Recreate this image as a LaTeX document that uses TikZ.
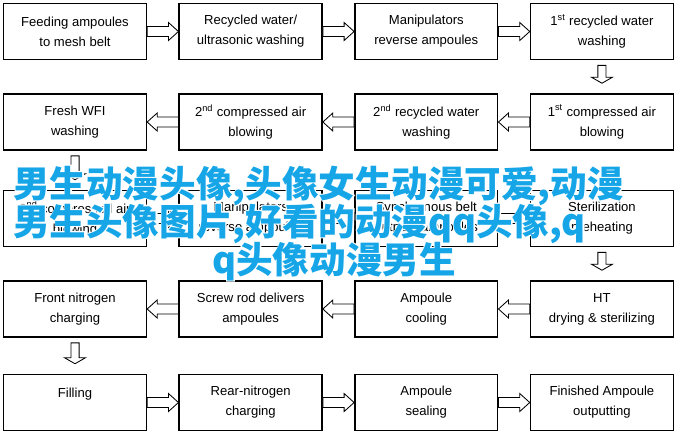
\documentclass[tikz,border=0pt]{standalone}
\usepackage{fontspec}
\setmainfont{Liberation Sans}
\newfontfamily\cjk{Noto Sans CJK SC}
\newfontfamily\cjkhalo{Noto Sans CJK SC}[FakeBold=6]
\usetikzlibrary{calc}
\definecolor{cjkblue}{RGB}{22,166,232}
\tikzstyle{stepbox} = [rectangle, minimum width=3.57cm, minimum height=1.4cm, text centered, align=center, draw=black, line width=1.1pt, fill=white, font=\fontsize{9.3}{14.2}\selectfont]
\tikzset{flow/.style n args={5}{draw=black, fill=white, line width=0.6pt,
    to path={let \p1=(\tikztostart), \p2=(\tikztotarget),
      \n1={atan2(\y2-\y1,\x2-\x1)}, \n2={veclen(\x2-\x1,\y2-\y1)-#5}, \n3={\n2-#3} in
      ([shift={(\p1)},rotate=\n1]#4pt,#1pt) -- ([shift={(\p1)},rotate=\n1]\n3,#1pt)
      -- ([shift={(\p1)},rotate=\n1]\n3,#2pt) -- ([shift={(\p1)},rotate=\n1]\n2,0pt)
      -- ([shift={(\p1)},rotate=\n1]\n3,-#2pt) -- ([shift={(\p1)},rotate=\n1]\n3,-#1pt)
      -- ([shift={(\p1)},rotate=\n1]#4pt,-#1pt) -- cycle}}}
\tikzstyle{hflow} = [flow={3.6}{6.4}{7.1}{0}{0}]
\tikzstyle{vflow} = [flow={2.9}{7.5}{4.3}{3.6}{7.1}]
\tikzstyle{banner} = [inner sep=0pt, font=\cjk\bfseries\fontsize{26}{26}\selectfont]
\tikzstyle{halo} = [inner sep=0pt, white, font=\cjkhalo\bfseries\fontsize{26}{26}\selectfont]

\begin{document}
\begin{tikzpicture}[x=0.025cm, y=-0.025cm, node distance=4.39cm]
        \useasboundingbox (0,0) rectangle (683,436);
        \node (feed) [stepbox] at (75,31.5) {Feeding ampoules\\to mesh belt};
        \node (recyc) [stepbox, right of=feed] {Recycled water/\\ultrasonic washing};
        \node (manip) [stepbox, right of=recyc] {Manipulators\\reverse ampoules};
        \node (wash1) [stepbox, right of=manip] {1\textsuperscript{st} recycled water\\washing};

        \node (wfi) [stepbox] at (75,122) {Fresh WFI\\washing};
        \node (blow2) [stepbox, right of=wfi] {2\textsuperscript{nd} compressed air\\blowing};
        \node (wash2) [stepbox, right of=blow2] {2\textsuperscript{nd} recycled water\\washing};
        \node (blow1) [stepbox, right of=wash2] {1\textsuperscript{st} compressed air\\blowing};

        \node (blow3) [stepbox] at (75,218.5) {2\textsuperscript{nd} compressed air\\blowing};
        \node (manip2) [stepbox, right of=blow3] {Manipulators\\reverse ampoules};
        \node (sync) [stepbox, right of=manip2] {Synchronous belt\\outputs ampoules};
        \node (preheat) [stepbox, right of=sync] {Sterilization\\preheating};

        \node (nfront) [stepbox] at (75,309) {Front nitrogen\\charging};
        \node (screw) [stepbox, right of=nfront] {Screw rod delivers\\ampoules};
        \node (cool) [stepbox, right of=screw] {Ampoule\\cooling};
        \node (ht) [stepbox, right of=cool] {HT\\drying \& sterilizing};

        \node (fill) [stepbox] at (75,402.5) {Filling\\\mbox{}};
        \node (nrear) [stepbox, right of=fill] {Rear-nitrogen\\charging};
        \node (seal) [stepbox, right of=nrear] {Ampoule\\sealing};
        \node (done) [stepbox, right of=seal] {Finished Ampoule\\outputting};

        % row arrows
        \draw [hflow] (feed.east) to (recyc.west);
        \draw [hflow] (recyc.east) to (manip.west);
        \draw [hflow] (manip.east) to (wash1.west);
        \draw [hflow] (blow1.west) to (wash2.east);
        \draw [hflow] (wash2.west) to (blow2.east);
        \draw [hflow] (blow2.west) to (wfi.east);
        \draw [hflow] (blow3.east) to (manip2.west);
        \draw [hflow] (manip2.east) to (sync.west);
        \draw [hflow] (sync.east) to (preheat.west);
        \draw [hflow] (ht.west) to (cool.east);
        \draw [hflow] (cool.west) to (screw.east);
        \draw [hflow] (screw.west) to (nfront.east);
        \draw [hflow] (fill.east) to (nrear.west);
        \draw [hflow] (nrear.east) to (seal.west);
        \draw [hflow] (seal.east) to (done.west);
        % turns between rows
        \draw [vflow] (wash1.south) to (blow1.north);
        \draw [vflow] (wfi.south) to (blow3.north);
        \draw [vflow] (preheat.south) to (ht.north);
        \draw [vflow] (nfront.south) to (fill.north);

        % overlay text
        \node [halo, anchor=base west] at (13,197) {男生动漫头像,头像女生动漫可爱,动漫};
        \node [halo, anchor=base west] at (13,235) {男生头像图片,好看的动漫qq头像,q};
        \node [halo, anchor=base] at (334,273) {q头像动漫男生};
        \node (line1) [banner, cjkblue, anchor=base west] at (13,197) {男生动漫头像,头像女生动漫可爱,动漫};
        \node (line2) [banner, cjkblue, anchor=base west] at (13,235) {男生头像图片,好看的动漫qq头像,q};
        \node (line3) [banner, cjkblue, anchor=base] at (334,273) {q头像动漫男生};
    \end{tikzpicture}
\end{document}
